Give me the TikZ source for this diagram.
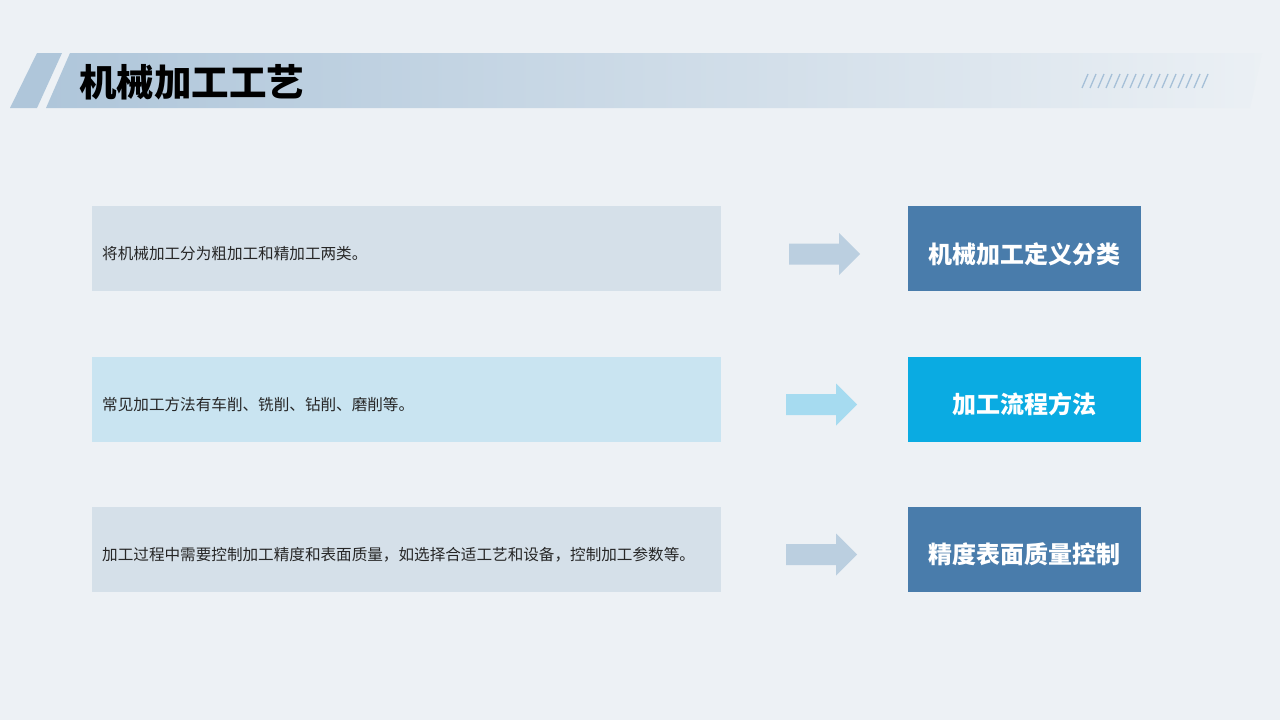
\documentclass[tikz,border=0pt]{standalone}
\usepackage{fontspec}
\newfontfamily\cjk{Noto Sans CJK SC}
\definecolor{bg}{HTML}{EDF1F5}
\definecolor{bandL}{HTML}{AFC6DA}
\definecolor{bandR}{HTML}{E6EDF3}
\definecolor{lbox}{HTML}{D5E0E9}
\definecolor{lboxhi}{HTML}{C9E4F1}
\definecolor{arr}{HTML}{BBCFE0}
\definecolor{arrhi}{HTML}{A6DBF0}
\definecolor{rbox}{HTML}{497CAB}
\definecolor{rboxhi}{HTML}{0AABE2}
\definecolor{slash}{HTML}{A6C0D8}
\tikzset{
  descbox/.style={minimum width=629pt, minimum height=85pt, inner sep=0pt},
  titlebox/.style={minimum width=233pt, minimum height=85pt, inner sep=0pt},
  titletext/.style={inner sep=0pt, text=white, font=\cjk\bfseries\fontsize{24}{28}\selectfont},
  desctext/.style={anchor=west, inner sep=0pt, text=black!85, font=\cjk\fontsize{15.6}{18}\selectfont},
}
\begin{document}
\begin{tikzpicture}[x=1pt,y=-1pt]
\useasboundingbox (0,0) rectangle (1280,720);
\fill[bg] (0,0) rectangle (1280,720);
% header
\fill[bandL] (37,53) -- (62,53) -- (37,108) -- (10,108) -- cycle;
\shade[left color=bandL, right color=bg!70!bandR] (70,53) -- (1262,53) -- (1250,108) -- (46,108) -- cycle;
\node[anchor=west, inner sep=0pt, font=\cjk\bfseries\fontsize{37.5}{40}\selectfont, text=black] (title) at (79,82) {机械加工工艺};
\foreach \i in {0,...,15} {
  \draw[slash, line width=1.3pt] (1082+8*\i,88) -- (1088+8*\i,74);
}
% rows
\foreach \y/\lc/\ac/\rc/\lt/\rt/\ax [count=\n] in {
  248.5/lbox/arr/rbox/{将机械加工分为粗加工和精加工两类。}/{机械加工定义分类}/789,
  399/lboxhi/arrhi/rboxhi/{常见加工方法有车削、铣削、钻削、磨削等。}/{加工流程方法}/786,
  549/lbox/arr/rbox/{加工过程中需要控制加工精度和表面质量，如选择合适工艺和设备，控制加工参数等。}/{精度表面质量控制}/786} {
  \node[descbox, fill=\lc] (d\n) at (406.5,\y) {};
  \node[desctext] (dt\n) at (102,\y+5.5) {\lt};
  \node[titlebox, fill=\rc] (t\n) at (1024.5,\y) {};
  \node[titletext] (tt\n) at (1024.5,\y+5.5) {\rt};
  \fill[\ac] (\ax,\y-5) -- (\ax+50,\y-5) -- (\ax+50,\y-15.5) -- (\ax+71,\y+5.5) -- (\ax+50,\y+26.5) -- (\ax+50,\y+16) -- (\ax,\y+16) -- cycle;
}
\end{tikzpicture}
\end{document}
